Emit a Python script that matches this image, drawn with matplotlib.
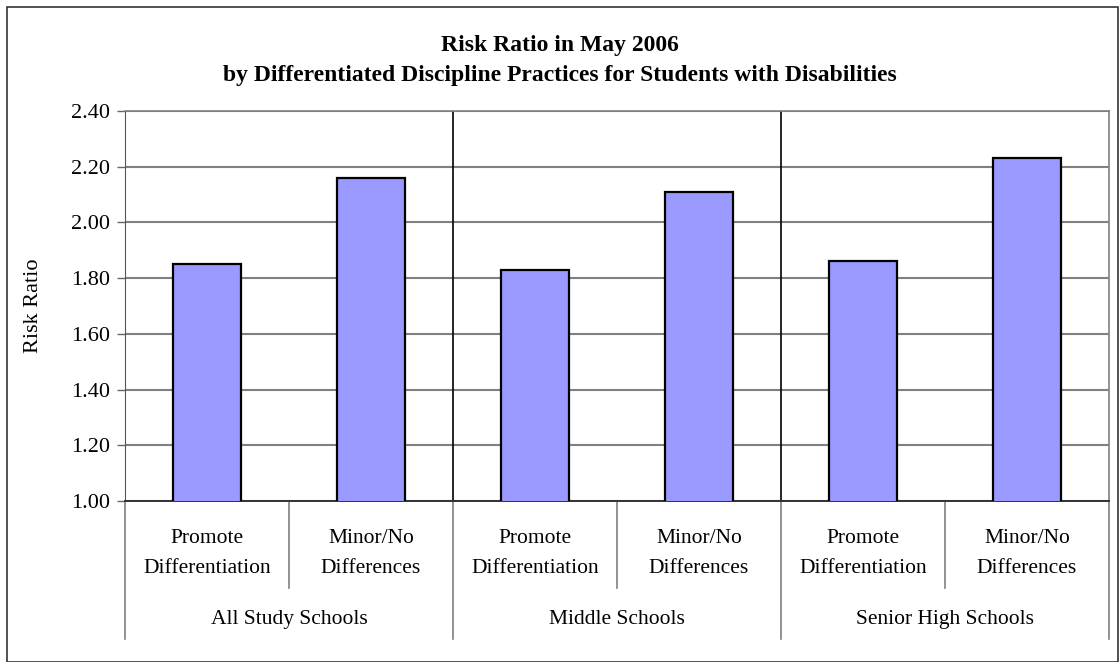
import numpy as np
import matplotlib
matplotlib.use("Agg")
import matplotlib.pyplot as plt
from matplotlib.patches import Rectangle
from matplotlib.ticker import FormatStrFormatter

plt.rcParams['font.family'] = ['Liberation Serif', 'DejaVu Serif']

# data
groups = ["All Study Schools", "Middle Schools", "Senior High Schools"]
subcats = ["Promote\nDifferentiation", "Minor/No\nDifferences"]
values = [1.85, 2.16, 1.83, 2.11, 1.86, 2.23]
yticks = [1.00, 1.20, 1.40, 1.60, 1.80, 2.00, 2.20, 2.40]

W, H = 1120, 662
fig = plt.figure(figsize=(W / 100, H / 100), dpi=100)

# outer chart border
fig.patches.append(Rectangle((7 / W, 0.5 / H), 1111 / W, 654.5 / H, transform=fig.transFigure,
                             fill=False, edgecolor='#333333', linewidth=1.2))

left, right, top, bottom = 125, 1109, 111, 501
ax = fig.add_axes([left / W, 1 - bottom / H, (right - left) / W, (bottom - top) / H])

x = np.arange(len(values))
ax.bar(x, values, width=0.41, bottom=0, color='#9999FF', edgecolor='black', linewidth=1.6, zorder=3)

ax.set_xlim(-0.5, len(values) - 0.5)
ax.set_ylim(1.0, 2.4)
ax.set_yticks(yticks)
ax.yaxis.set_major_formatter(FormatStrFormatter('%.2f'))
ax.tick_params(axis='y', length=6, width=1, color='#666666', labelsize=16, pad=5)
ax.tick_params(axis='x', length=0, labelbottom=False)
ax.yaxis.grid(True, color='#808080', linewidth=1.5, zorder=1)

for s in ['top', 'right']:
    ax.spines[s].set_color('#808080')
    ax.spines[s].set_linewidth(1.2)
ax.spines['left'].set_color('#555555')
ax.spines['bottom'].set_color('#333333')
ax.spines['bottom'].set_linewidth(1.4)

ax.set_ylabel("Risk Ratio", fontsize=16, labelpad=20)

# group separators inside plot
trans = ax.get_xaxis_transform()
n_sub = len(subcats)
for g in range(1, len(groups)):
    xs = g * n_sub - 0.5
    ax.axvline(xs, color='black', linewidth=1.2, zorder=2)

# multi-level category axis
for g in range(len(groups) + 1):
    xs = g * n_sub - 0.5
    ax.plot([xs, xs], [0, -0.354], transform=trans, color='#808080', linewidth=1.2, clip_on=False)
for g in range(len(groups)):
    xs = g * n_sub + 0.5
    ax.plot([xs, xs], [0, -0.222], transform=trans, color='#808080', linewidth=1.2, clip_on=False)

for i in range(len(values)):
    lines = subcats[i % n_sub].split("\n")
    ax.text(x[i], -0.095, lines[0], transform=trans, ha='center', va='center', fontsize=15.5)
    ax.text(x[i], -0.172, lines[1], transform=trans, ha='center', va='center', fontsize=15.5)
for g, name in enumerate(groups):
    ax.text(g * n_sub + 0.5, -0.303, name, transform=trans, ha='center', va='center', fontsize=15.5)

fig.text(560 / W, 1 - 45 / H, "Risk Ratio in May 2006", ha='center', va='center',
         fontsize=17, fontweight='bold')
fig.text(560 / W, 1 - 76 / H,
         "by Differentiated Discipline Practices for Students with Disabilities",
         ha='center', va='center', fontsize=17, fontweight='bold')

fig.savefig("out.png", dpi=100)
